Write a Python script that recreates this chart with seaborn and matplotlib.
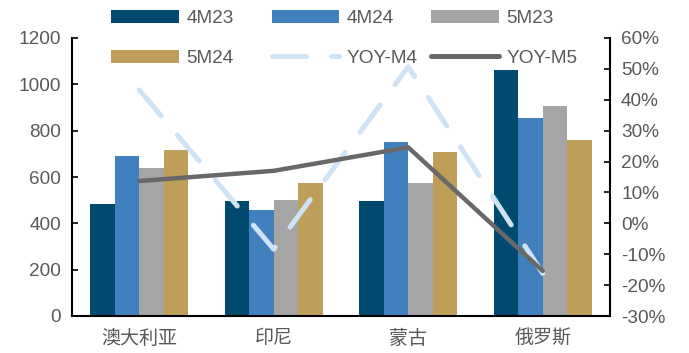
import numpy as np
import pandas as pd
import matplotlib
matplotlib.use("Agg")
import matplotlib.pyplot as plt
import seaborn as sns
from matplotlib.patches import Patch
from matplotlib.lines import Line2D
from matplotlib.ticker import FuncFormatter, FixedLocator

# ---- data ----
countries = ["澳大利亚", "印尼", "蒙古", "俄罗斯"]
bar_series = ["4M23", "4M24", "5M23", "5M24"]
v_4m23 = [485, 498, 495, 1061]
v_4m24 = [691, 459, 750, 856]
v_5m23 = [640, 500, 575, 905]
v_5m24 = [718, 576, 707, 761]
yoy_m4 = [0.432, -0.084, 0.507, -0.162]
yoy_m5 = [0.137, 0.170, 0.246, -0.154]
left_ticks = [0, 200, 400, 600, 800, 1000, 1200]
right_ticks = [-0.3, -0.2, -0.1, 0.0, 0.1, 0.2, 0.3, 0.4, 0.5, 0.6]

colors = {"4M23": "#004A70", "4M24": "#4180BF", "5M23": "#A5A5A5", "5M24": "#BF9E5A"}
c_m4 = "#CFE3F4"
c_m5 = "#686868"
txt = "#595959"

sns.set_style("white")
plt.rcParams["font.family"] = ["Liberation Sans", "Noto Sans CJK SC", "DejaVu Sans"]
fs = 13.7

df = pd.DataFrame({
    "country": np.repeat(countries, 4),
    "series": bar_series * 4,
    "value": [v for quad in zip(v_4m23, v_4m24, v_5m23, v_5m24) for v in quad],
})

fig = plt.figure(figsize=(6.89, 3.53), dpi=100)
ax = fig.add_axes([72/689, 1-316/353, (610-72)/689, (316-38)/353])

sns.barplot(data=df, x="country", y="value", hue="series", hue_order=bar_series,
            order=countries, palette=colors, width=0.73, saturation=1, ax=ax,
            legend=False, linewidth=0, errorbar=None)

ax.set_xlim(-0.5, 3.5)
ax.set_ylim(0, 1200)
ax.yaxis.set_major_locator(FixedLocator(left_ticks))
ax.set_xlabel("")
ax.set_ylabel("")
ax.tick_params(axis="y", direction="in", length=4, width=1.2, colors="black",
               labelcolor=txt, labelsize=fs, pad=8)
ax.tick_params(axis="x", which="major", length=0, labelcolor=txt, labelsize=fs, pad=10)
ax.set_xticks([0.5, 1.5, 2.5], minor=True)
ax.tick_params(axis="x", which="minor", direction="in", length=5, width=1.2, color="black")
for s in ["left", "bottom"]:
    ax.spines[s].set_color("black")
    ax.spines[s].set_linewidth(1.5)
ax.spines["top"].set_visible(False)
ax.spines["right"].set_visible(False)

ax2 = ax.twinx()
pos = np.arange(len(countries))
sns.lineplot(x=pos, y=yoy_m4, ax=ax2, color=c_m4, linewidth=3.6,
             linestyle=(0, (6.8, 5.0)), dash_capstyle="round", legend=False)
sns.lineplot(x=pos, y=yoy_m5, ax=ax2, color=c_m5, linewidth=3.2,
             solid_capstyle="round", legend=False)
ax2.set_ylim(-0.3, 0.6)
ax2.yaxis.set_major_locator(FixedLocator(right_ticks))
ax2.yaxis.set_major_formatter(FuncFormatter(lambda v, p: f"{v*100:.0f}%"))
ax2.tick_params(axis="y", direction="in", length=4, width=1.2, colors="black",
                labelcolor=txt, labelsize=fs, pad=8)
ax2.set_ylabel("")
for s in ["top", "left", "bottom"]:
    ax2.spines[s].set_visible(False)
ax2.spines["right"].set_color("black")
ax2.spines["right"].set_linewidth(1.5)
ax.set_xlim(-0.5, 3.5)

# ---- legend: three columns of two entries each ----
cols = [
    [(Patch(facecolor=colors["4M23"], edgecolor="none"), "4M23"),
     (Patch(facecolor=colors["5M24"], edgecolor="none"), "5M24")],
    [(Patch(facecolor=colors["4M24"], edgecolor="none"), "4M24"),
     (Line2D([], [], color=c_m4, lw=3.6, ls=(0, (6.8, 5.0)), dash_capstyle="round"), "YOY-M4")],
    [(Patch(facecolor=colors["5M23"], edgecolor="none"), "5M23"),
     (Line2D([], [], color=c_m5, lw=3.6, solid_capstyle="round"), "YOY-M5")],
]
xs = [111, 271.5, 431]
for x0, col in zip(xs, cols):
    fig.legend([h for h, _ in col], [l for _, l in col], loc="upper left",
               bbox_to_anchor=(x0/689, 1-10/353), frameon=False, ncol=1,
               borderpad=0, borderaxespad=0, handlelength=3.55, handletextpad=0.4,
               labelspacing=1.17, fontsize=fs, labelcolor=txt)

fig.savefig("out.png", dpi=100)
